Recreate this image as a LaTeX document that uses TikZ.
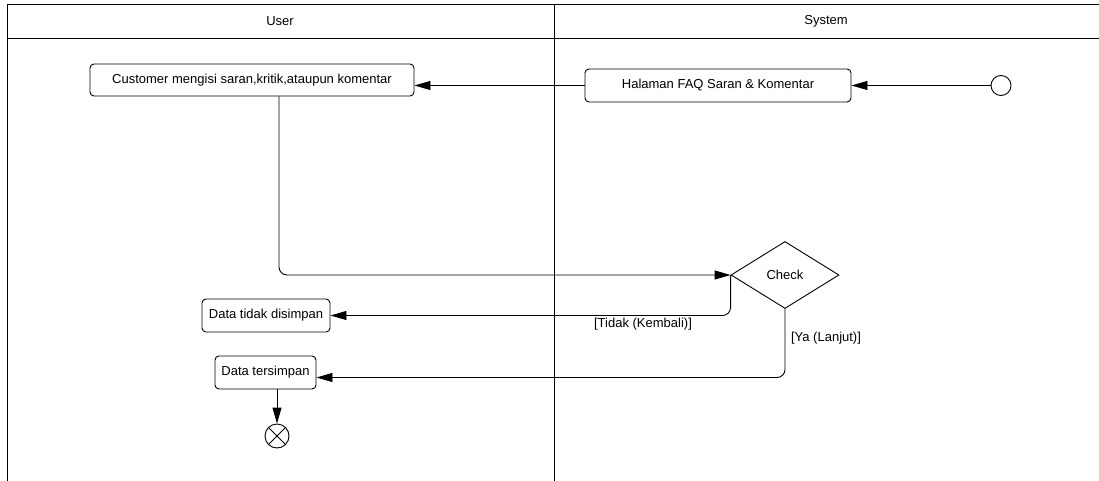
\documentclass[tikz,border=0pt]{standalone}
\usepackage{fontspec}
\setmainfont{Liberation Sans}
\usetikzlibrary{shapes.geometric,arrows.meta}
\begin{document}
\begin{tikzpicture}[x=1pt,y=-1pt,
  every node/.style={font=\fontsize{13}{15}\selectfont},
  act/.style={draw, rounded corners=4pt, line width=0.9pt, inner sep=0pt},
  flow/.style={line width=0.9pt, -{Triangle[length=16pt,width=9pt]}},
  lane/.style={line width=1pt},
  lbl/.style={inner sep=0pt}]
\useasboundingbox (0,0) rectangle (1099,481);
% swimlanes
\draw[lane] (7,481) -- (7,5) -- (1099,5);
\draw[lane] (7,38.5) -- (1099,38.5);
\draw[lane] (554,5) -- (554,481);
\node[lbl] (huser) at (280,21) {User};
\node[lbl] (hsys) at (826,21) {System};
% nodes
\node[act, minimum width=324pt, minimum height=32pt] (cust) at (252,80) {Customer mengisi saran,kritik,ataupun komentar};
\node[act, minimum width=266pt, minimum height=33pt] (hal) at (718,85.5) {Halaman FAQ Saran \& Komentar};
\node[draw, circle, line width=0.9pt, minimum size=20pt, inner sep=0pt] (start) at (1001,85.5) {};
\node[draw, diamond, line width=0.9pt, minimum width=108pt, minimum height=67pt, inner sep=0pt] (chk) at (785,275) {Check};
\node[act, minimum width=128pt, minimum height=33pt] (tidak) at (266,315.5) {Data tidak disimpan};
\node[act, minimum width=101pt, minimum height=33pt] (ters) at (265.5,372.5) {Data tersimpan};
\node[draw, circle, line width=0.9pt, minimum size=24pt, inner sep=0pt] (end) at (277,436) {};
\draw[line width=0.9pt] (end.north west) -- (end.south east) (end.north east) -- (end.south west);
\coordinate (yain) at ([yshift=-5pt]ters.east);
\coordinate (custout) at ([xshift=27pt]cust.south);
\coordinate (tersout) at ([xshift=11.5pt]ters.south);
% connectors
\draw[flow] (start) -- (hal);
\draw[flow] (hal.west) -- (cust.east |- hal.west);
\draw[flow, rounded corners=8pt] (custout) -- (custout |- chk.west) -- (chk.west);
\draw[flow, rounded corners=8pt] (chk.west) -- (chk.west |- tidak.east) -- (tidak.east);
\draw[flow, rounded corners=8pt] (chk.south) -- (chk.south |- yain) -- (yain);
\draw[flow] (tersout) -- (end);
% labels
\node[lbl] (ltidak) at (643,324) {[Tidak (Kembali)]};
\node[lbl] (lya) at (826,338) {[Ya (Lanjut)]};
\end{tikzpicture}
\end{document}
